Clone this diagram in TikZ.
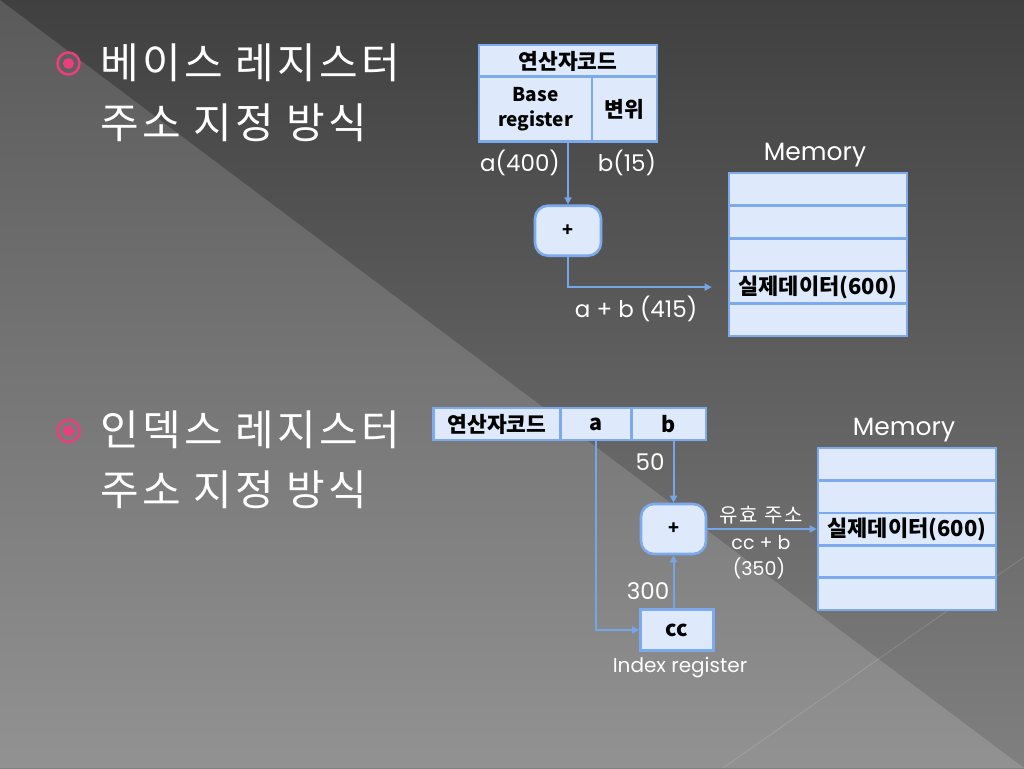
\documentclass[tikz,border=0pt]{standalone}
\usepackage{fontspec}
\setmainfont{Noto Sans CJK KR}
\newfontfamily\krfont{Noto Sans CJK KR}
\newfontfamily\krspaced{Noto Sans CJK KR}[LetterSpace=8]
\newfontfamily\latfont{Poppins}
\usetikzlibrary{arrows.meta}
\definecolor{bgA}{RGB}{64,64,64}
\definecolor{bgB}{RGB}{128,128,128}
\definecolor{bgC}{RGB}{90,90,90}
\definecolor{bgD}{RGB}{146,146,146}
\definecolor{cellfill}{RGB}{222,234,252}
\definecolor{cellline}{RGB}{125,170,236}
\definecolor{connc}{RGB}{118,165,232}
\definecolor{pinkc}{RGB}{236,62,124}
\newcommand\fsz[1]{\fontsize{#1}{#1}\selectfont}
\tikzset{
 cell/.style={draw=cellline, fill=cellfill, line width=2.6pt, inner sep=0pt, text=black, font=\krfont\bfseries\fsz{21.5}, align=center},
 addbox/.style={cell, rounded corners=13pt, font=\krfont\bfseries\fsz{18}},
 conn/.style={draw=connc, line width=2pt, -{Triangle[length=7pt,width=7pt]}},
 wlab/.style={text=white, font=\latfont\fsz{23}, inner sep=0pt},
 klab/.style={text=white, font=\krspaced\fsz{20}, inner sep=0pt},
 title/.style={text=white, font=\krspaced\fsz{42}, anchor=base west, inner sep=0pt},
 bullet/.style={circle, draw=pinkc, line width=2.5pt, minimum size=22pt, inner sep=0pt},
 bdot/.style={circle, fill=pinkc, minimum size=11pt, inner sep=0pt},
}
\begin{document}
\begin{tikzpicture}[x=1pt,y=-1pt]
\useasboundingbox (0,0) rectangle (1024,768);
% background
\shade[top color=bgA, bottom color=bgB] (0,0) rectangle (1024,768);
\shade[top color=bgC, bottom color=bgD] (0,0) -- (1024,768) -- (0,768) -- cycle;
\draw[white, opacity=0.12, line width=1pt] (723,768) -- (1024,557);

% titles
\node[bullet] (b1) at (68.5,63.5) {};
\node[bdot] (b1d) at (b1.center) {};
\node[title] (t1a) at (100,78) {베이스 레지스터};
\node[title] (t1b) at (100,138) {주소 지정 방식};
\node[bullet] (b2) at (68.5,431) {};
\node[bdot] (b2d) at (b2.center) {};
\node[title] (t2a) at (100,445.5) {인덱스 레지스터};
\node[title] (t2b) at (100,505.5) {주소 지정 방식};

% top diagram
\node[cell, minimum width=178pt, minimum height=32pt] (op1) at (568,61) {연산자코드};
\node[cell, minimum width=113pt, minimum height=65pt, font=\krfont\bfseries\fontsize{19}{25}\selectfont] (base1) at (535.5,109.2) {Base\\register};
\node[cell, minimum width=65pt, minimum height=65pt] (disp1) at (624.5,109.2) {변위};
\node[addbox, minimum width=66pt, minimum height=50pt] (add1) at (568,230.7) {+};
\foreach \i/\y in {1/189.3,2/221.9,3/254.5,4/287.1,5/319.7}
  \node[cell, minimum width=178pt, minimum height=32.6pt] (m1-\i) at (818,\y) {};
\node[font=\krfont\bfseries\fsz{22}, inner sep=0pt] (m1t) at (m1-4.center) {실제데이터(600)};
\node[wlab, font=\latfont\fsz{25}] (mlab1) at (815,155) {Memory};
\node[wlab] (la) at (520,163) {a(400)};
\node[wlab] (lb) at (627,163) {b(15)};
\node[wlab] (lab1) at (636,309) {a + b (415)};
\draw[conn] (add1.north |- base1.south) -- (add1.north);
\draw[conn, shorten >=16pt] (add1.south) |- (m1-4.west);

% bottom diagram
\node[cell, minimum width=127pt, minimum height=32pt] (opc2) at (497,424) {연산자코드};
\node[cell, minimum width=71pt, minimum height=32pt] (ca2) at (596,424) {a};
\node[cell, minimum width=74pt, minimum height=32pt] (cb2) at (669,424) {b};
\node[addbox, minimum width=65pt, minimum height=50pt] (add2) at (673.5,529) {+};
\node[cell, minimum width=73pt, minimum height=41pt] (cc2) at (677,630) {cc};
\foreach \i/\y in {1/464.2,2/496.6,3/529,4/561.4,5/593.8}
  \node[cell, minimum width=178pt, minimum height=32.4pt] (m2-\i) at (907,\y) {};
\node[font=\krfont\bfseries\fsz{22}, inner sep=0pt] (m2t) at (m2-3.center) {실제데이터(600)};
\node[wlab, font=\latfont\fsz{25}] (mlab2) at (904,430) {Memory};
\node[wlab] (l50) at (650,462) {50};
\node[wlab] (l300) at (648,591) {300};
\node[klab] (leff) at (761,515) {유효 주소};
\node[wlab, font=\latfont\fsz{19}] (lccb) at (761,543) {cc + b};
\node[wlab, font=\latfont\fsz{19}] (l350) at (759,568) {(350)};
\node[wlab, font=\latfont\fsz{20}] (lidx) at (680,668) {Index register};
\draw[conn] (ca2.south) |- (cc2.west);
\draw[conn] (add2.north |- cb2.south) -- (add2.north);
\draw[conn] (add2.south |- cc2.north) -- (add2.south);
\draw[conn] (add2.east) -- (m2-3.west);
\end{tikzpicture}
\end{document}
